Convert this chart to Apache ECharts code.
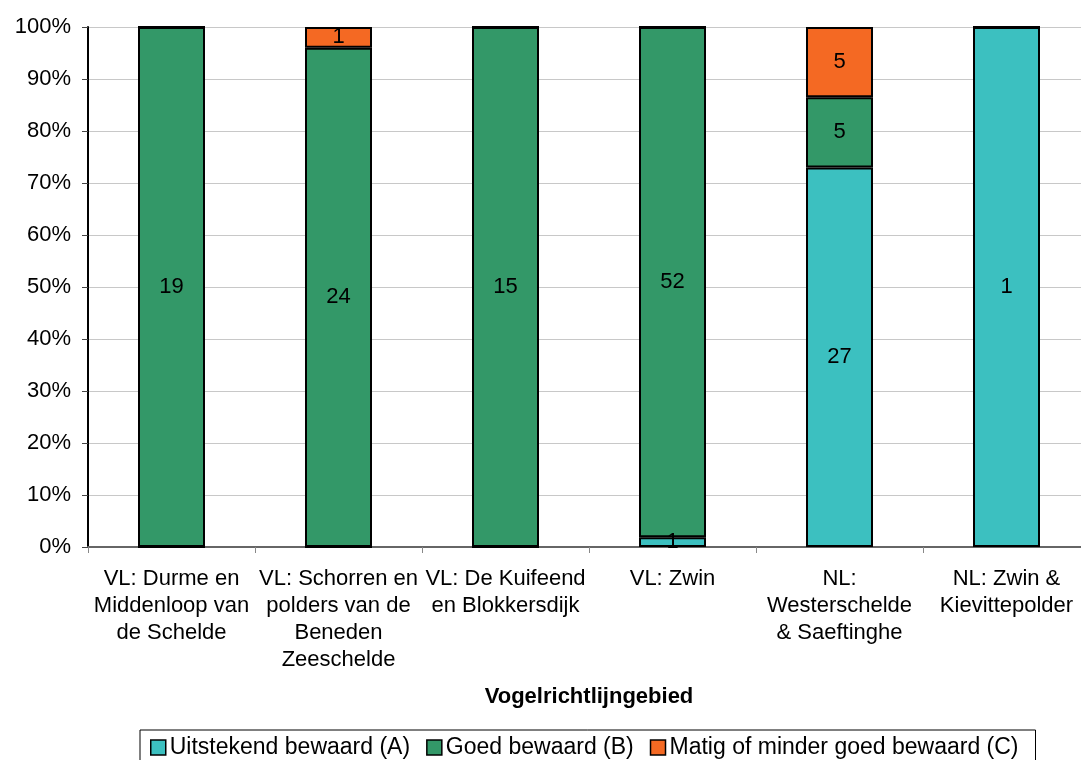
<!DOCTYPE html>
<html>
<head>
<meta charset="utf-8">
<script src="https://cdn.jsdelivr.net/npm/echarts@6/dist/echarts.min.js"></script>
<style>
html,body{margin:0;padding:0;background:#fff;overflow:hidden;width:1081px;height:760px;}
#chart{width:1100px;height:760px;}
</style>
</head>
<body>
<div id="chart"></div>
<script>
var categories = [
  "VL: Durme en\nMiddenloop van\nde Schelde",
  "VL: Schorren en\npolders van de\nBeneden\nZeeschelde",
  "VL: De Kuifeend\nen Blokkersdijk",
  "VL: Zwin",
  "NL:\nWesterschelde\n& Saeftinghe",
  "NL: Zwin &\nKievittepolder"
];
var seriesNames = ["Uitstekend bewaard (A)", "Goed bewaard (B)", "Matig of minder goed bewaard (C)"];
var countsA = [0, 0, 0, 1, 27, 1];
var countsB = [19, 24, 15, 52, 5, 0];
var countsC = [0, 1, 0, 0, 5, 0];
var yTickLabels = ["0%","10%","20%","30%","40%","50%","60%","70%","80%","90%","100%"];

var colors = ["#3cc0c0", "#339868", "#f46923"];
var FONT = "'Liberation Sans', Arial, sans-serif";

var allCounts = [countsA, countsB, countsC];
var totals = categories.map(function(_, i){ return countsA[i] + countsB[i] + countsC[i]; });

function makeSeries(idx){
  var counts = allCounts[idx];
  return {
    name: seriesNames[idx],
    type: 'bar',
    stack: 'total',
    barWidth: 67,
    data: counts.map(function(c, i){ return {value: c / totals[i] * 100, count: c}; }),
    itemStyle: { color: colors[idx], borderColor: '#000', borderWidth: 2 },
    label: {
      show: true,
      position: 'inside',
      color: '#000',
      fontFamily: FONT,
      fontSize: 22,
      formatter: function(p){ return p.data.count > 0 ? String(p.data.count) : ''; }
    },
    emphasis: { disabled: true }
  };
}

var chart = echarts.init(document.getElementById('chart'), null, {renderer: 'canvas'});
chart.setOption({
  animation: false,
  backgroundColor: '#fff',
  textStyle: { fontFamily: FONT },
  grid: { left: 88, top: 27, width: 1002, height: 520, containLabel: false },
  xAxis: {
    type: 'category',
    data: categories,
    name: 'Vogelrichtlijngebied',
    nameLocation: 'middle',
    nameGap: 139,
    nameTextStyle: { fontFamily: FONT, fontSize: 22, fontWeight: 'bold', color: '#000' },
    axisLine: { lineStyle: { color: '#666', width: 2 } },
    axisTick: { show: true, length: 6, alignWithLabel: false, lineStyle: { color: '#888', width: 1 } },
    axisLabel: { fontFamily: FONT, fontSize: 22, color: '#000', lineHeight: 27, margin: 18, interval: 0 },
    splitLine: { show: false }
  },
  yAxis: {
    type: 'value',
    min: 0, max: 100, interval: 10,
    axisLine: { show: true, lineStyle: { color: '#000', width: 2 } },
    axisTick: { show: true, length: 6, lineStyle: { color: '#444', width: 1 } },
    axisLabel: {
      fontFamily: FONT, fontSize: 22, color: '#000', margin: 17,
      formatter: function(v){ return yTickLabels[Math.round(v / 10)]; }
    },
    splitLine: { show: true, lineStyle: { color: '#c8c8c8', width: 1 } }
  },
  legend: {
    data: seriesNames,
    left: 140, top: 730,
    orient: 'horizontal',
    itemWidth: 15, itemHeight: 15,
    itemGap: 16,
    padding: [6, 17, 8, 10],
    borderColor: '#000', borderWidth: 1,
    icon: 'rect',
    itemStyle: { borderColor: '#000', borderWidth: 1.5 },
    textStyle: { fontFamily: FONT, fontSize: 23, color: '#000', padding: [0, 0, 0, -1] },
    selectedMode: false
  },
  series: [makeSeries(0), makeSeries(1), makeSeries(2)]
});
</script>
</body>
</html>
